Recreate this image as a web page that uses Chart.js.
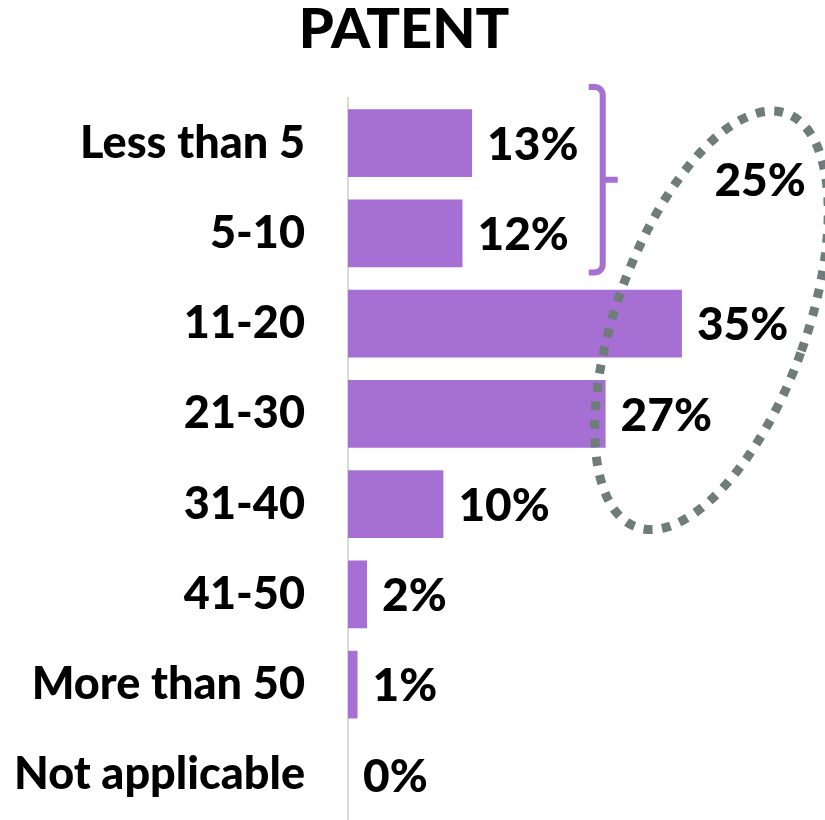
<!DOCTYPE html>
<html>
<head>
<meta charset="utf-8">
<script src="https://cdn.jsdelivr.net/npm/chart.js@4/dist/chart.umd.min.js"></script>
<style>
  html, body { margin: 0; padding: 0; background: #ffffff; }
  #wrap { width: 825px; height: 820px; position: relative; }
</style>
</head>
<body>
<div id="wrap"><canvas id="c" width="825" height="820"></canvas></div>
<script>
const title = 'PATENT';
const categories = ['Less than 5', '5-10', '11-20', '21-30', '31-40', '41-50', 'More than 50', 'Not applicable'];
const shares = [13, 12, 35, 27, 10, 2, 1, 0];
const bracketGroup = [0, 1];           // rows joined by the brace
const xMax = 50;

const PURPLE = '#a66fd3';
const GREY_DOTS = '#6f7d7a';
const FONT = 'Lato, "Open Sans", sans-serif';
const WEIGHT = '900';

const groupTotal = bracketGroup.reduce((s, i) => s + shares[i], 0);

const decorations = {
  id: 'decorations',
  afterDatasetsDraw(chart) {
    const ctx = chart.ctx;
    const xs = chart.scales.x, ys = chart.scales.y;
    const meta = chart.getDatasetMeta(0);

    // value labels at the end of each bar
    ctx.save();
    ctx.fillStyle = '#000';
    ctx.font = WEIGHT + ' 46px ' + FONT;
    ctx.textAlign = 'left';
    ctx.textBaseline = 'middle';
    meta.data.forEach((bar, i) => {
      ctx.fillText(shares[i] + '%', bar.x + 15, bar.y + 2);
    });
    ctx.restore();

    // brace joining the first two rows
    const band = ys.getPixelForValue(1) - ys.getPixelForValue(0);
    const bx = xs.getPixelForValue(26.7);
    const top = ys.getPixelForValue(bracketGroup[0]) - band / 2 - 11;
    const bot = ys.getPixelForValue(bracketGroup[bracketGroup.length - 1]) + band / 2 - 6;
    const mid = (top + bot) / 2;
    const r = 8;
    ctx.save();
    ctx.strokeStyle = PURPLE;
    ctx.lineWidth = 6;
    ctx.lineCap = 'butt';
    ctx.beginPath();
    ctx.moveTo(bx - 14, top);
    ctx.arcTo(bx, top, bx, top + r, r);
    ctx.lineTo(bx, bot - r);
    ctx.arcTo(bx, bot, bx - 14, bot, r);
    ctx.lineTo(bx - 14, bot);
    ctx.stroke();
    ctx.beginPath();
    ctx.moveTo(bx, mid);
    ctx.lineTo(bx + 15, mid);
    ctx.stroke();
    ctx.restore();

    // dotted ellipse around the middle rows
    const cx = xs.getPixelForValue(38.1);
    const cy = ys.getPixelForValue(1.93) + 3;
    ctx.save();
    ctx.strokeStyle = GREY_DOTS;
    ctx.lineWidth = 9;
    ctx.setLineDash([9, 9.5]);
    ctx.beginPath();
    ctx.ellipse(cx, cy, 95, 220, 20 * Math.PI / 180, 0, Math.PI * 2);
    ctx.stroke();
    ctx.restore();

    // total of the braced rows
    ctx.save();
    ctx.fillStyle = '#000';
    ctx.font = WEIGHT + ' 46px ' + FONT;
    ctx.textAlign = 'center';
    ctx.textBaseline = 'middle';
    ctx.fillText(groupTotal + '%', xs.getPixelForValue(43.2), ys.getPixelForValue(0.4) + 2);
    ctx.restore();
  },
  afterDraw(chart) {
    const ctx = chart.ctx;
    ctx.save();
    ctx.fillStyle = '#000';
    ctx.font = WEIGHT + ' 56px ' + FONT;
    ctx.textAlign = 'center';
    ctx.textBaseline = 'middle';
    ctx.fillText(title, 404, 30);
    ctx.restore();
  }
};

new Chart(document.getElementById('c'), {
  type: 'bar',
  data: {
    labels: categories,
    datasets: [{
      data: shares,
      backgroundColor: PURPLE,
      borderWidth: 0,
      barPercentage: 0.75,
      categoryPercentage: 1.0
    }]
  },
  options: {
    indexAxis: 'y',
    responsive: false,
    animation: false,
    layout: { padding: { top: 98, right: 0, bottom: 0, left: 0 } },
    plugins: {
      legend: { display: false },
      tooltip: { enabled: false },
      title: { display: false }
    },
    scales: {
      x: {
        display: false,
        min: 0,
        max: xMax
      },
      y: {
        afterFit(scale) {
          scale.width = 348;
          scale.paddingTop = 0;
          scale.paddingBottom = 0;
        },
        grid: { display: false, drawTicks: false },
        border: { display: true, color: '#d9d9d9', width: 2 },
        ticks: {
          color: '#000',
          padding: 43,
          font: { family: FONT, weight: WEIGHT, size: 45 }
        }
      }
    }
  },
  plugins: [decorations]
});
</script>
</body>
</html>
